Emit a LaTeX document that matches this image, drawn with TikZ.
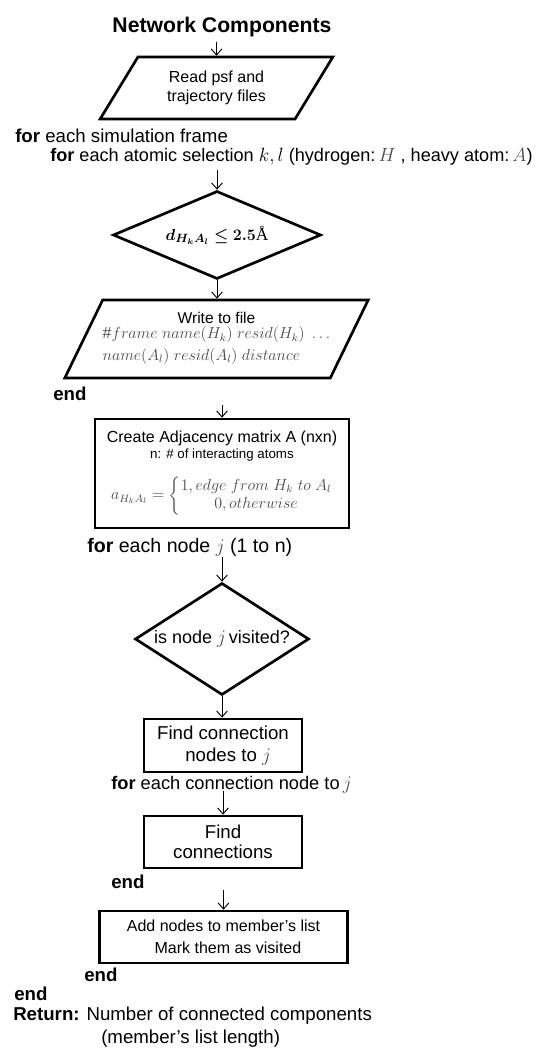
\documentclass[tikz,border=0pt]{standalone}
\usepackage{amsmath}
\usepackage{amssymb}
\usepackage{bm}
\usepackage{fontspec}
\setmainfont{Liberation Sans}
\newfontfamily\serifang{Liberation Serif}
\usetikzlibrary{shapes.geometric,arrows.meta}

\definecolor{mathgray}{rgb}{0.3,0.3,0.3}

\tikzset{
  flowline/.style={line width=2pt},
  arr/.style={-{Straight Barb[length=4.5pt,width=8pt]},line width=0.7pt},
  txt/.style={anchor=west,inner sep=0.75pt,font=\fontsize{14}{17}\selectfont},
  procbox/.style={draw,flowline,rectangle,align=center,inner sep=0pt},
  iobox/.style={draw,flowline,trapezium,trapezium left angle=55,trapezium right angle=125,
    trapezium stretches=true,align=center,inner sep=0pt},
  decbox/.style={draw,flowline,diamond,inner sep=0pt},
}

\begin{document}
\begin{tikzpicture}[x=0.75pt,y=0.75pt,yscale=-1,xscale=1]
\useasboundingbox (0,0) rectangle (538,1048);

% Text Node
\draw (222,27) node (title) [inner sep=0.75pt,font=\fontsize{15.9}{18}\selectfont\bfseries] {Network Components};

%Flowchart: Data
\draw (216.5,88) node (readpsf) [iobox,minimum width=174.75pt,minimum height=46.5pt,font=\fontsize{12}{14.25}\selectfont] {Read psf and\\trajectory files};

% Text Node
\draw (14,136) node (frm) [txt] {\textbf{for} each simulation frame};
% Text Node
\draw (49,157) node (sel) [txt,font=\fontsize{13.6}{16}\selectfont] {\textbf{for} each atomic selection $k,l$ (hydrogen:\,{\color{mathgray}$H$} , heavy atom:\,{\color{mathgray}$A$})};

%Flowchart: Decision
\draw (217,235) node (dist) [decbox,aspect=2.36,minimum width=156pt,minimum height=66pt,font=\fontsize{13}{15}\selectfont] {$\bm{d_{H_kA_l} \leq 2.5}${\serifang Å}};

%Flowchart: Data
\draw (216.5,339) node (wfile) [iobox,minimum width=212pt,minimum height=58.5pt,font=\fontsize{11.7}{15.4}\selectfont] {Write to file\\
  {\fontsize{12}{15}\selectfont\color{mathgray}\begin{tabular}{@{}l@{}}$\#frame\ name(H_k)\ resid(H_k)\ \ldots$\\[1pt] $name(A_l)\ resid(A_l)\ distance$\end{tabular}}};

% Text Node
\draw (52,394) node (endfrm) [txt] {\textbf{end}};

%Shape: Rectangle
\draw (222,473.5) node (adj) [procbox,minimum width=190.5pt,minimum height=81.75pt,font=\fontsize{12}{14}\selectfont] {Create Adjacency matrix A (nxn)\\[-2pt]
  {\fontsize{10}{12}\selectfont n: \# of interacting atoms}\\[10pt]
  {\color{mathgray}$a_{H_kA_l} = \left\{\begin{array}{@{}c@{}} 1, edge\ from\ H_k\ to\ A_l\\ 0, otherwise\end{array}\right.$}\rule[-12pt]{0pt}{12pt}};

% Text Node
\draw (86,547) node (fornode) [txt,font=\fontsize{14.7}{18}\selectfont] {\textbf{for} each node {\color{mathgray}$j$} (1 to n)};

%Flowchart: Decision
\draw (222,639) node (visited) [decbox,aspect=1.55,minimum width=130.5pt,minimum height=84pt,font=\fontsize{13.5}{16}\selectfont] {is node {\color{mathgray}$j$}\,visited?};

%Shape: Rectangle
\draw (223,745.5) node (conn) [procbox,minimum width=118.5pt,minimum height=39.75pt,font=\fontsize{14}{17}\selectfont] {Find connection\\ \ \ nodes to {\color{mathgray}$j$}};

% Text Node
\draw (110,785) node (forconn) [txt,font=\fontsize{13.7}{16}\selectfont] {\textbf{for} each connection node to\,{\color{mathgray}$j$}};

%Shape: Rectangle
\draw (223,842) node (links) [procbox,minimum width=118.5pt,minimum height=39pt,font=\fontsize{14}{15}\selectfont] {Find\\connections};

% Text Node
\draw (110,882) node (endconn) [txt] {\textbf{end}};

%Shape: Rectangle
\draw (223.5,937) node (add) [procbox,minimum width=186pt,minimum height=39pt,font=\fontsize{12}{16.5}\selectfont] {Add nodes to member's list\\ \ \ Mark them as visited};

% Text Node
\draw (83,975) node (endnode) [txt] {\textbf{end}};
% Text Node
\draw (13,994) node (endall) [txt] {\textbf{end}};
% Text Node
\draw (12,1016) node (ret) [txt] {\textbf{Return:} Number of connected components};
% Text Node
\draw (100,1039) node (retlen) [txt] {(member's list length)};

%Straight Lines
\coordinate (s1) at (216.5,42);
\coordinate (s2) at (217,170);
\coordinate (s3) at (222,405);
\coordinate (s4) at (222,557);
\coordinate (s5) at (223,791);
\coordinate (s6) at (223.5,890);
\draw [arr] (s1) -- (readpsf.north);
\draw [arr] (s2) -- (dist.north);
\draw [arr] (dist.south) -- (dist.south |- wfile.north);
\draw [arr] (s3) -- (adj.north);
\draw [arr] (s4) -- (visited.north);
\draw [arr] (visited.south) -- (visited.south |- conn.north);
\draw [arr] (s5) -- (links.north);
\draw [arr] (s6) -- (add.north);

\end{tikzpicture}
\end{document}
